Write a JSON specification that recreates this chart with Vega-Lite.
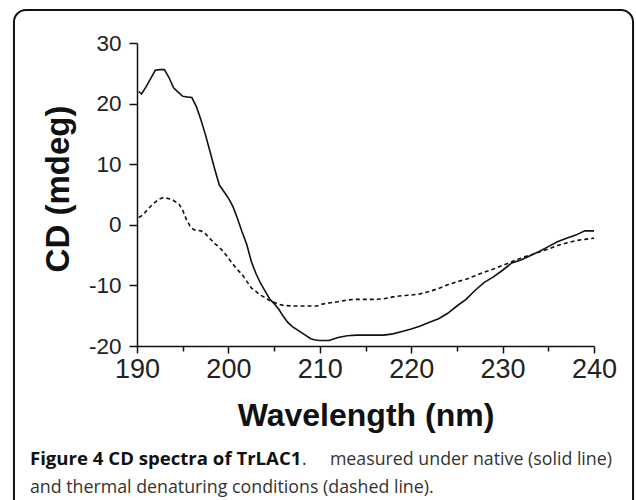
{
  "$schema": "https://vega.github.io/schema/vega-lite/v6.json",
  "width": 457,
  "height": 303,
  "autosize": {"type": "none"},
  "padding": {"left": 137, "top": 43, "right": 42, "bottom": 154},
  "background": "white",
  "config": {"view": {"stroke": null}},
  "datasets": {
    "native": [
      {"nm": 190.2, "cd": 22.0}, {"nm": 190.5, "cd": 21.6}, {"nm": 191.0, "cd": 22.8}, {"nm": 191.6, "cd": 24.4},
      {"nm": 192.0, "cd": 25.5}, {"nm": 192.5, "cd": 25.6}, {"nm": 193.0, "cd": 25.6}, {"nm": 193.5, "cd": 24.3},
      {"nm": 194.0, "cd": 22.6}, {"nm": 194.5, "cd": 21.9}, {"nm": 195.0, "cd": 21.2}, {"nm": 195.5, "cd": 21.1},
      {"nm": 196.0, "cd": 21.0}, {"nm": 196.5, "cd": 19.5}, {"nm": 197.0, "cd": 17.3}, {"nm": 197.5, "cd": 14.8},
      {"nm": 198.0, "cd": 12.0}, {"nm": 198.5, "cd": 9.2}, {"nm": 199.0, "cd": 6.6}, {"nm": 199.5, "cd": 5.5},
      {"nm": 200.0, "cd": 4.4}, {"nm": 200.5, "cd": 3.0}, {"nm": 201.0, "cd": 1.0}, {"nm": 201.5, "cd": -1.2},
      {"nm": 202.0, "cd": -3.2}, {"nm": 202.5, "cd": -6.0}, {"nm": 203.0, "cd": -8.0}, {"nm": 203.5, "cd": -9.6},
      {"nm": 204.0, "cd": -10.9}, {"nm": 204.5, "cd": -12.2}, {"nm": 205.0, "cd": -13.0}, {"nm": 205.5, "cd": -13.9},
      {"nm": 206.0, "cd": -15.1}, {"nm": 206.5, "cd": -16.1}, {"nm": 207.0, "cd": -16.8}, {"nm": 207.5, "cd": -17.3},
      {"nm": 208.0, "cd": -17.8}, {"nm": 208.5, "cd": -18.3}, {"nm": 209.0, "cd": -18.8}, {"nm": 209.5, "cd": -19.0},
      {"nm": 210.0, "cd": -19.1}, {"nm": 211.0, "cd": -19.1}, {"nm": 212.0, "cd": -18.6}, {"nm": 213.0, "cd": -18.3},
      {"nm": 214.0, "cd": -18.2}, {"nm": 215.0, "cd": -18.2}, {"nm": 216.0, "cd": -18.2}, {"nm": 217.0, "cd": -18.2},
      {"nm": 218.0, "cd": -18.0}, {"nm": 219.0, "cd": -17.6}, {"nm": 220.0, "cd": -17.2}, {"nm": 221.0, "cd": -16.7},
      {"nm": 222.0, "cd": -16.1}, {"nm": 223.0, "cd": -15.5}, {"nm": 224.0, "cd": -14.6}, {"nm": 225.0, "cd": -13.4},
      {"nm": 226.0, "cd": -12.3}, {"nm": 227.0, "cd": -10.8}, {"nm": 228.0, "cd": -9.5}, {"nm": 229.0, "cd": -8.6},
      {"nm": 230.0, "cd": -7.5}, {"nm": 231.0, "cd": -6.3}, {"nm": 232.0, "cd": -5.8}, {"nm": 233.0, "cd": -5.1},
      {"nm": 234.0, "cd": -4.4}, {"nm": 235.0, "cd": -3.6}, {"nm": 236.0, "cd": -2.8}, {"nm": 237.0, "cd": -2.2},
      {"nm": 238.0, "cd": -1.7}, {"nm": 239.0, "cd": -1.0}, {"nm": 240.0, "cd": -1.0}
    ],
    "thermal": [
      {"nm": 190.2, "cd": 1.2}, {"nm": 190.7, "cd": 1.7}, {"nm": 191.2, "cd": 2.6}, {"nm": 191.8, "cd": 3.5},
      {"nm": 192.4, "cd": 4.2}, {"nm": 192.9, "cd": 4.5}, {"nm": 193.5, "cd": 4.3}, {"nm": 194.0, "cd": 4.0},
      {"nm": 194.6, "cd": 3.4}, {"nm": 195.0, "cd": 2.4}, {"nm": 195.4, "cd": 0.9}, {"nm": 195.8, "cd": -0.2},
      {"nm": 196.2, "cd": -0.8}, {"nm": 197.0, "cd": -1.0}, {"nm": 197.5, "cd": -1.5}, {"nm": 198.0, "cd": -2.3},
      {"nm": 198.5, "cd": -3.1}, {"nm": 199.0, "cd": -3.7}, {"nm": 199.5, "cd": -4.5}, {"nm": 200.0, "cd": -5.5},
      {"nm": 200.5, "cd": -6.5}, {"nm": 201.0, "cd": -7.4}, {"nm": 201.5, "cd": -8.2}, {"nm": 202.0, "cd": -9.3},
      {"nm": 202.5, "cd": -10.4}, {"nm": 203.0, "cd": -11.0}, {"nm": 203.5, "cd": -11.6}, {"nm": 204.0, "cd": -12.0},
      {"nm": 204.5, "cd": -12.5}, {"nm": 205.0, "cd": -12.8}, {"nm": 205.5, "cd": -13.1}, {"nm": 206.0, "cd": -13.3},
      {"nm": 207.0, "cd": -13.4}, {"nm": 208.0, "cd": -13.4}, {"nm": 209.0, "cd": -13.4}, {"nm": 209.7, "cd": -13.4},
      {"nm": 210.2, "cd": -13.1}, {"nm": 211.0, "cd": -12.9}, {"nm": 212.0, "cd": -12.7}, {"nm": 213.0, "cd": -12.4},
      {"nm": 214.0, "cd": -12.3}, {"nm": 215.0, "cd": -12.3}, {"nm": 216.0, "cd": -12.3}, {"nm": 217.0, "cd": -12.2},
      {"nm": 218.0, "cd": -11.9}, {"nm": 219.0, "cd": -11.7}, {"nm": 220.0, "cd": -11.6}, {"nm": 221.0, "cd": -11.4},
      {"nm": 222.0, "cd": -11.0}, {"nm": 223.0, "cd": -10.5}, {"nm": 224.0, "cd": -9.9}, {"nm": 225.0, "cd": -9.4},
      {"nm": 226.0, "cd": -9.0}, {"nm": 227.0, "cd": -8.4}, {"nm": 228.0, "cd": -7.8}, {"nm": 229.0, "cd": -7.3},
      {"nm": 230.0, "cd": -6.7}, {"nm": 231.0, "cd": -6.1}, {"nm": 232.0, "cd": -5.5}, {"nm": 233.0, "cd": -5.0},
      {"nm": 234.0, "cd": -4.5}, {"nm": 235.0, "cd": -4.0}, {"nm": 236.0, "cd": -3.4}, {"nm": 237.0, "cd": -3.0},
      {"nm": 238.0, "cd": -2.6}, {"nm": 239.0, "cd": -2.4}, {"nm": 240.0, "cd": -2.2}
    ],
    "caption": [
      {"part": "bold", "align": "left", "text": "Figure 4 CD spectra of TrLAC1", "nm": 178.29, "cd": -39.64},
      {"part": "normal", "align": "left", "text": ".", "nm": 208.05, "cd": -39.64},
      {"part": "normal", "align": "right", "text": "measured under native (solid line)", "nm": 241.97, "cd": -39.64},
      {"part": "normal", "align": "left", "text": "and thermal denaturing conditions (dashed line).", "nm": 178.29, "cd": -44.21}
    ],
    "frame": [{"nm": 176.54, "nm2": 244.27, "cd": 35.45, "cd2": -48.7}]
  },
  "encoding": {
    "x": {"field": "nm", "type": "quantitative", "scale": {"domain": [190, 240], "nice": false, "zero": false},
      "axis": {"values": [190, 195, 200, 205, 210, 215, 220, 225, 230, 235, 240], "grid": false, "domainColor": "#111", "domainWidth": 1.5,
        "tickColor": "#111", "tickWidth": 1.5,
        "tickSize": {"condition": {"test": "datum.value % 10 !== 0", "value": 5}, "value": 7},
        "labelExpr": "datum.value % 10 === 0 ? datum.label : ''",
        "labelFontSize": 27, "labelFont": "Liberation Sans",
        "labelColor": "#222", "labelPadding": 3, "labelFlush": false,
        "title": "Wavelength (nm)", "titleFont": "Liberation Sans", "titleFontSize": 32, "titleFontWeight": "bold",
        "titleColor": "#111", "titleBaseline": "alphabetic", "titleY": 79, "titleX": 228.5, "titleAnchor": "middle"}},
    "y": {"field": "cd", "type": "quantitative", "scale": {"domain": [-20, 30], "nice": false, "zero": false},
      "axis": {"values": [-20, -10, 0, 10, 20, 30], "grid": false, "domainColor": "#111", "domainWidth": 1.5,
        "tickColor": "#111", "tickWidth": 1.5, "tickSize": 8, "labelFontSize": 22.5, "labelFont": "Liberation Sans",
        "labelExpr": "'' + datum.value",
        "labelColor": "#222", "labelPadding": 8, "labelFlush": false,
        "title": "CD (mdeg)", "titleFont": "Liberation Sans", "titleFontSize": 33, "titleFontWeight": "bold",
        "titleColor": "#111", "titleAngle": -90, "titleBaseline": "alphabetic", "titleX": -69, "titleY": 145.5, "titleAlign": "center"}}
  },
  "layer": [
    {
      "data": {"name": "frame"},
      "mark": {"type": "rect", "fill": null, "stroke": "#111", "strokeWidth": 2, "cornerRadius": 12, "clip": false},
      "encoding": {
        "x2": {"field": "nm2"},
        "y2": {"field": "cd2"}
      }
    },
    {
      "data": {"name": "native"},
      "mark": {"type": "line", "color": "#111", "strokeWidth": 1.6}
    },
    {
      "data": {"name": "thermal"},
      "mark": {"type": "line", "color": "#111", "strokeWidth": 1.6, "strokeDash": [4, 3]}
    },
    {
      "data": {"name": "caption"},
      "transform": [{"filter": "datum.part === 'bold'"}],
      "mark": {"type": "text", "align": "left", "baseline": "alphabetic", "font": "Open Sans", "fontSize": 18.6, "fontWeight": "bold", "color": "#111", "clip": false},
      "encoding": {"text": {"field": "text"}}
    },
    {
      "data": {"name": "caption"},
      "transform": [{"filter": "datum.part === 'normal' && datum.align === 'left'"}],
      "mark": {"type": "text", "align": "left", "baseline": "alphabetic", "font": "Open Sans", "fontSize": 17.8, "color": "#333", "clip": false},
      "encoding": {"text": {"field": "text"}}
    },
    {
      "data": {"name": "caption"},
      "transform": [{"filter": "datum.part === 'normal' && datum.align === 'right'"}],
      "mark": {"type": "text", "align": "right", "baseline": "alphabetic", "font": "Open Sans", "fontSize": 17.8, "color": "#333", "clip": false},
      "encoding": {"text": {"field": "text"}}
    }
  ]
}
